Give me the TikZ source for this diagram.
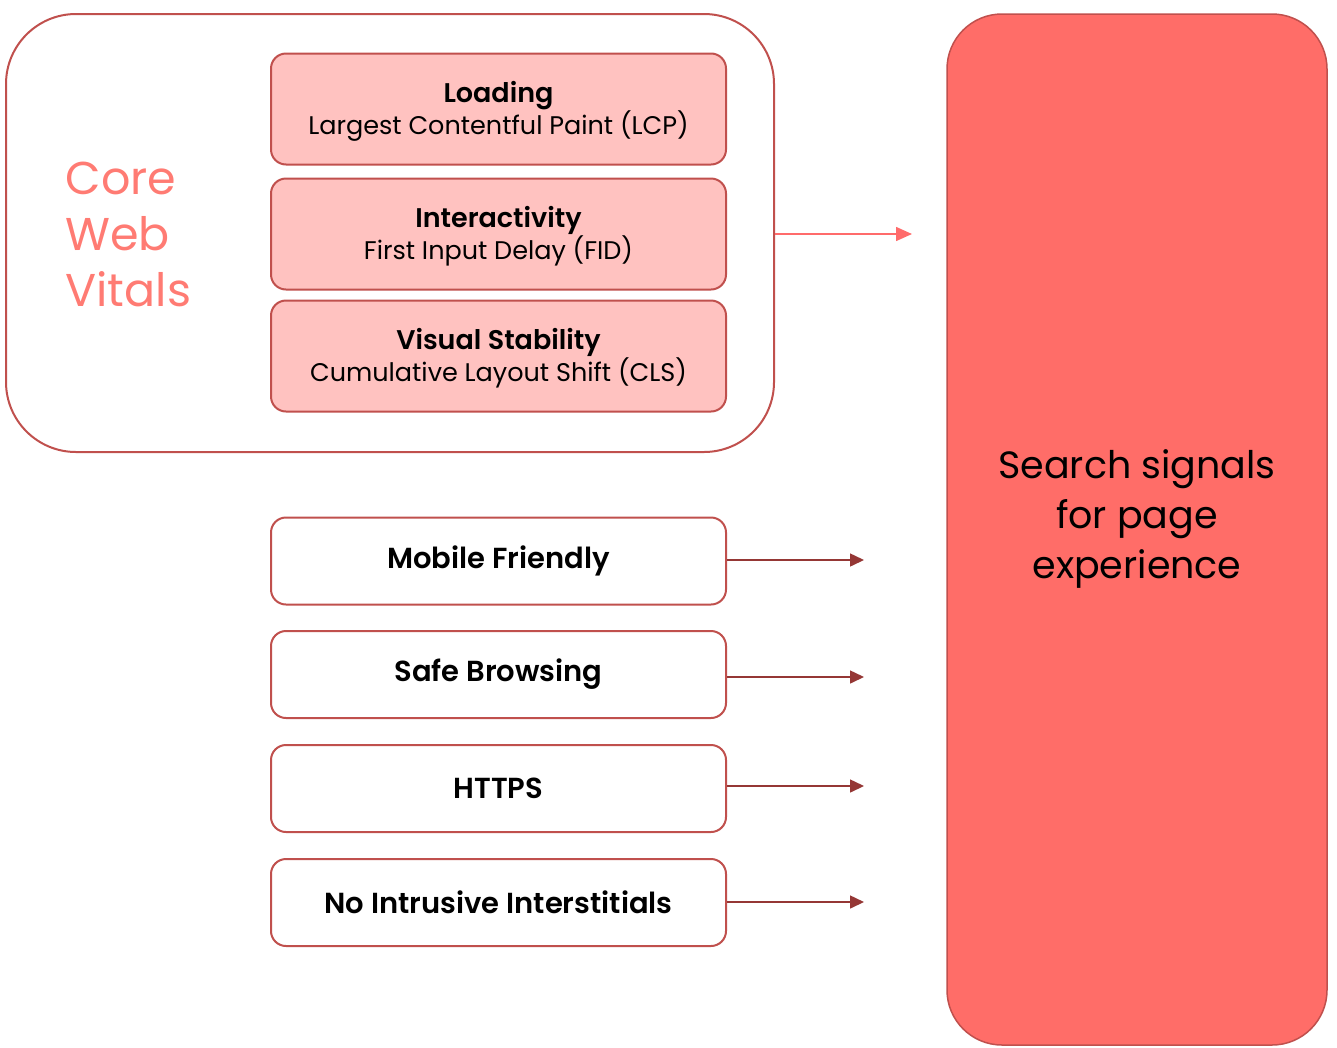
\documentclass[tikz,border=0pt]{standalone}
\usepackage{fontspec}
\setmainfont{Poppins}[BoldFont={Poppins SemiBold}]
\usetikzlibrary{arrows.meta}
\definecolor{edgered}{HTML}{C0504D}
\definecolor{pinkfill}{HTML}{FFC2C0}
\definecolor{bigfill}{HTML}{FF6D68}
\definecolor{lightred}{HTML}{FF6B6B}
\definecolor{darkred}{HTML}{953735}
\definecolor{corered}{HTML}{FF7B73}
\tikzset{
  outerbox/.style={draw=edgered, line width=2pt, rounded corners=70pt},
  metricbox/.style={draw=edgered, line width=2pt, fill=pinkfill, rounded corners=15pt, minimum width=455pt, minimum height=111pt, inner sep=0pt},
  metrictext/.style={align=center, inner sep=0pt},
  signalbox/.style={draw=edgered, line width=2pt, fill=white, rounded corners=15pt, minimum width=455pt, minimum height=87pt, align=center, inner sep=0pt, font=\fontsize{29}{34}\selectfont\bfseries},
  bigbox/.style={draw=edgered, line width=1.5pt, fill=bigfill, rounded corners=55pt},
  arrowlight/.style={draw=lightred, line width=1.5pt, -{Triangle[length=16pt,width=14pt]}},
  arrowdark/.style={draw=darkred, line width=1.5pt, -{Triangle[length=14pt,width=13pt]}},
}
\newcommand{\mtitle}{\fontsize{27}{32}\selectfont\bfseries}
\newcommand{\msub}{\fontsize{25.5}{33}\selectfont}
\begin{document}
\begin{tikzpicture}[x=1pt,y=-1pt]
\useasboundingbox (0,0) rectangle (1337,1047);
\draw[outerbox] (6,14) rectangle (774,452);
\draw[bigbox] (947,14) rectangle (1327,1045);
\node[text=corered, font=\fontsize{46}{56}\selectfont, align=left, anchor=west] (cwv) at (62,234) {Core\\Web\\Vitals};
\node[metricbox] (lcp) at (498.5,109) {};
\node[metrictext] (lcpt) at ([yshift=-2.5pt]lcp.center) {\mtitle Loading\\\msub Largest Contentful Paint (LCP)};
\node[metricbox] (fid) at (498.5,234) {};
\node[metrictext] (fidt) at ([yshift=-2.5pt]fid.center) {\mtitle Interactivity\\\msub First Input Delay (FID)};
\node[metricbox] (cls) at (498.5,356) {};
\node[metrictext] (clst) at ([yshift=-2.5pt]cls.center) {\mtitle Visual Stability\\\msub Cumulative Layout Shift (CLS)};
\node[signalbox] (mob) at (498.5,561) {Mobile Friendly};
\node[signalbox] (safe) at (498.5,674.5) {Safe Browsing};
\node[signalbox] (https) at (498.5,788.5) {HTTPS};
\node[signalbox] (nii) at (498.5,902.5) {No Intrusive Interstitials};
\node[font=\fontsize{38}{50}\selectfont, align=center] (search) at (1137,519) {Search signals\\for page\\experience};
\coordinate (outerE) at (775,234);
\coordinate (t1) at (912,234);
\coordinate (t2) at (864,560);
\coordinate (t3) at (864,677);
\coordinate (t4) at (864,786);
\coordinate (t5) at (864,902);
\draw[arrowlight] (outerE) -- (t1);
\draw[arrowdark] (mob.east |- t2) -- (t2);
\draw[arrowdark] (safe.east |- t3) -- (t3);
\draw[arrowdark] (https.east |- t4) -- (t4);
\draw[arrowdark] (nii.east |- t5) -- (t5);
\end{tikzpicture}
\end{document}
